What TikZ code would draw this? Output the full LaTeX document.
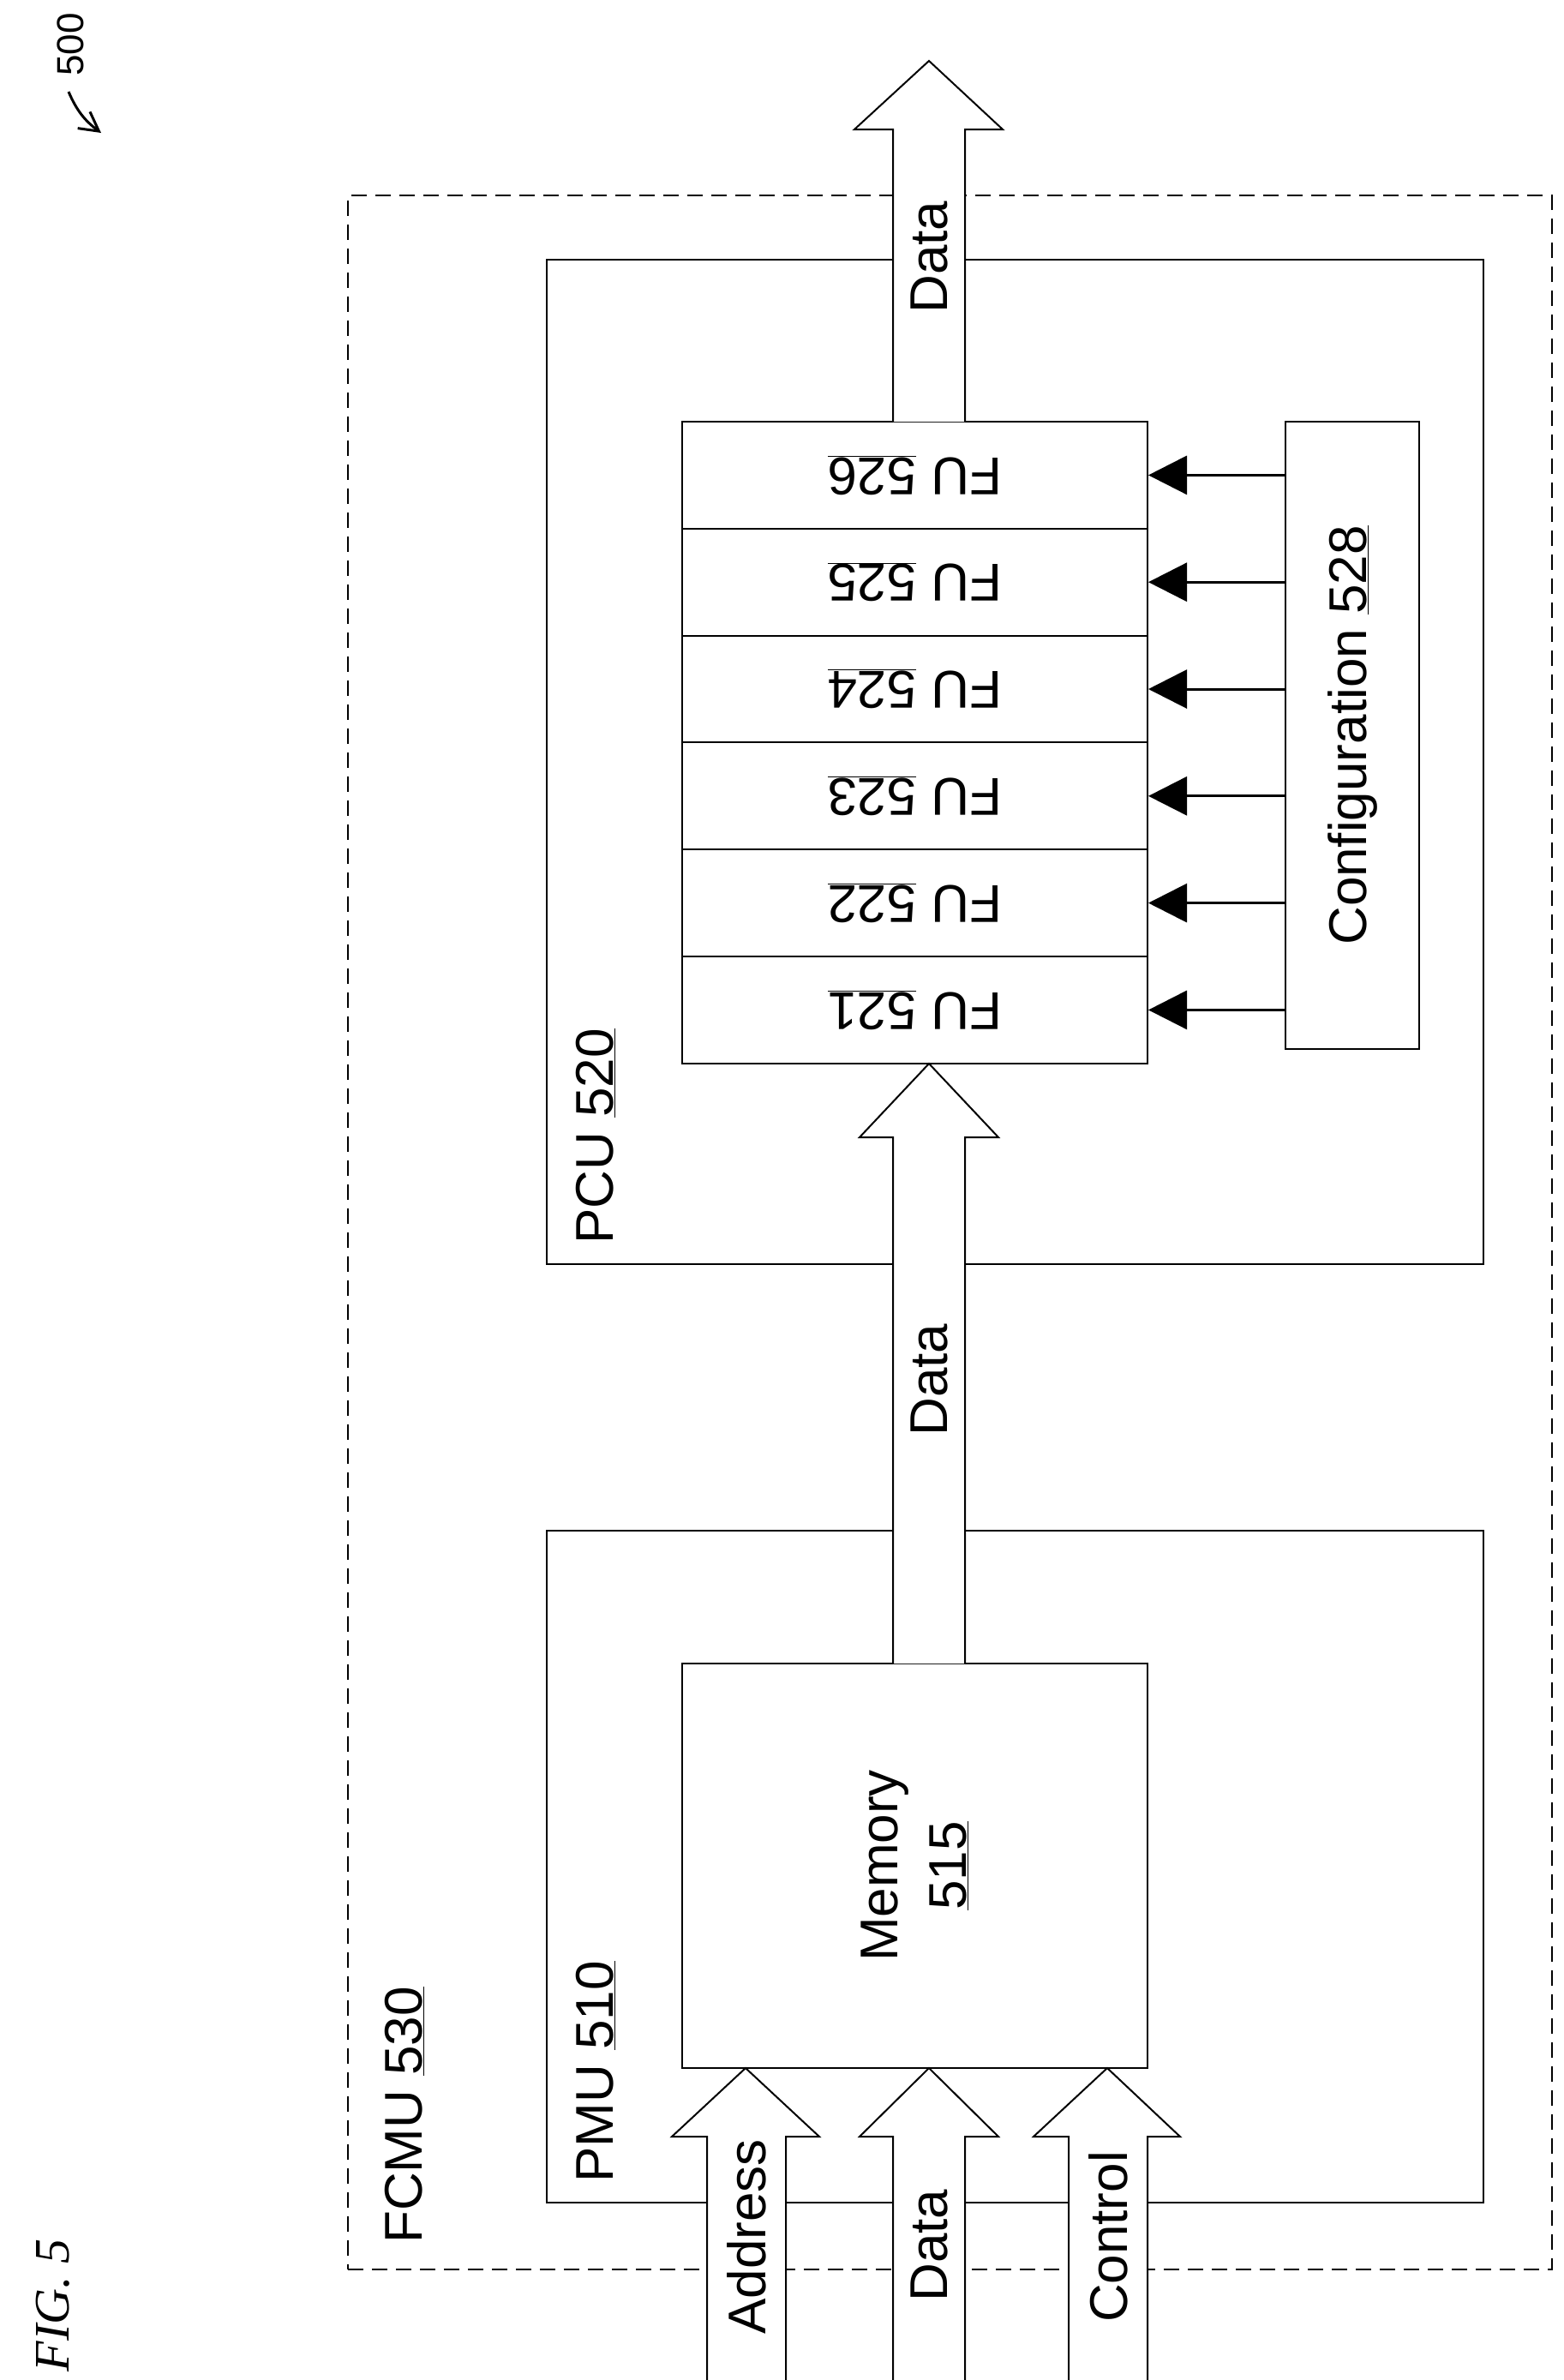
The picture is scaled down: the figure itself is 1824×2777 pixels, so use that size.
\documentclass[tikz,border=0pt]{standalone}
\usepackage{fontspec}
\setmainfont{Liberation Sans}
\newfontfamily\figfont{Liberation Serif}
\usetikzlibrary{arrows.meta}
\begin{document}
\begin{tikzpicture}[x=1pt,y=-1pt,
  box/.style={draw,line width=2pt,inner sep=0pt},
  lbl/.style={font=\fontsize{62}{70}\selectfont,inner sep=0pt},
  hollow/.style={draw,line width=2pt,fill=white},
  cfgarrow/.style={line width=3pt,-{Triangle[length=45pt,width=45pt]}}]
\useasboundingbox (0,0) rectangle (1824,2777);
% FCMU
\node[box,dashed,dash pattern=on 18pt off 10pt,minimum width=1405pt,minimum height=2420pt] (fcmu) at (1108.5,1438) {};
\node[lbl,rotate=90,anchor=west] (fcmul) at (472,2618) {FCMU \underline{530}};
% PCU and PMU
\node[box,minimum width=1093pt,minimum height=1172pt] (pcu) at (1184.5,889) {};
\node[lbl,rotate=90,anchor=west] (pcul) at (695,1452) {PCU \underline{520}};
\node[box,minimum width=1093pt,minimum height=784pt] (pmu) at (1184.5,2178) {};
\node[lbl,rotate=90,anchor=west] (pmul) at (695,2547) {PMU \underline{510}};
% Memory
\node[box,minimum width=543pt,minimum height=472pt,fill=white] (mem) at (1067.5,2177) {};
\node[lbl,rotate=90,align=center,font=\fontsize{62}{80}\selectfont] (meml) at (1067.5,2177) {Memory\\\underline{515}};
% Config
\node[box,minimum width=156pt,minimum height=732pt] (cfg) at (1578,858) {};
\node[lbl,rotate=90] (cfgl) at (1578,858) {Configuration \underline{528}};
% FUs
\foreach \i/\n in {0/526,1/525,2/524,3/523,4/522,5/521}{
  \node[box,minimum width=543pt,minimum height=124.8pt,fill=white] (fu\n) at (1067.5,{554.4+124.8*\i}) {};
  \node[lbl,rotate=180] (ful\n) at (1067.5,{554.4+124.8*\i}) {FU \underline{\n}};
  \draw[cfgarrow] (cfg.west |- fu\n.east) -- (fu\n.east);
}
% Hollow arrows
\coordinate (outtip) at (1084,71);
\draw[hollow] (1042,492) -- (1042,151) -- (997,151) -- (outtip) -- (1170,151) -- (1126,151) -- (1126,492);
\node[lbl,rotate=90] (dout) at (1084,300) {Data};
\coordinate (midtip) at (1084,1241);
\draw[hollow] (1042,1941) -- (1042,1327) -- (1003,1327) -- (midtip) -- (1165,1327) -- (1126,1327) -- (1126,1941);
\node[lbl,rotate=90] (dmid) at (1084,1610) {Data};
% inputs
\coordinate (addrtip) at (870,2413);
\draw[hollow] (825,2777) -- (825,2493) -- (784,2493) -- (addrtip) -- (956,2493) -- (917,2493) -- (917,2777);
\node[lbl,rotate=90] (addrl) at (871,2610) {Address};
\coordinate (dintip) at (1084,2413);
\draw[hollow] (1042,2777) -- (1042,2493) -- (1003,2493) -- (dintip) -- (1165,2493) -- (1126,2493) -- (1126,2777);
\node[lbl,rotate=90] (dinl) at (1084,2620) {Data};
\coordinate (ctltip) at (1292,2413);
\draw[hollow] (1247,2777) -- (1247,2493) -- (1206,2493) -- (ctltip) -- (1377,2493) -- (1339,2493) -- (1339,2777);
\node[lbl,rotate=90] (ctll) at (1293,2610) {Control};
% FIG and 500
\node[rotate=90,font=\figfont\itshape\fontsize{58}{60}\selectfont,inner sep=0pt] (fig) at (62,2690) {FIG. 5};
\node[rotate=90,font=\fontsize{44}{50}\selectfont,inner sep=0pt] (ref) at (82,52) {500};
\coordinate (r1) at (80,107);
\coordinate (r2) at (118,155);
\draw[line width=3pt,-{Straight Barb[length=22pt,width=24pt]}] (r1) to[bend right=15] (r2);
\end{tikzpicture}
\end{document}
